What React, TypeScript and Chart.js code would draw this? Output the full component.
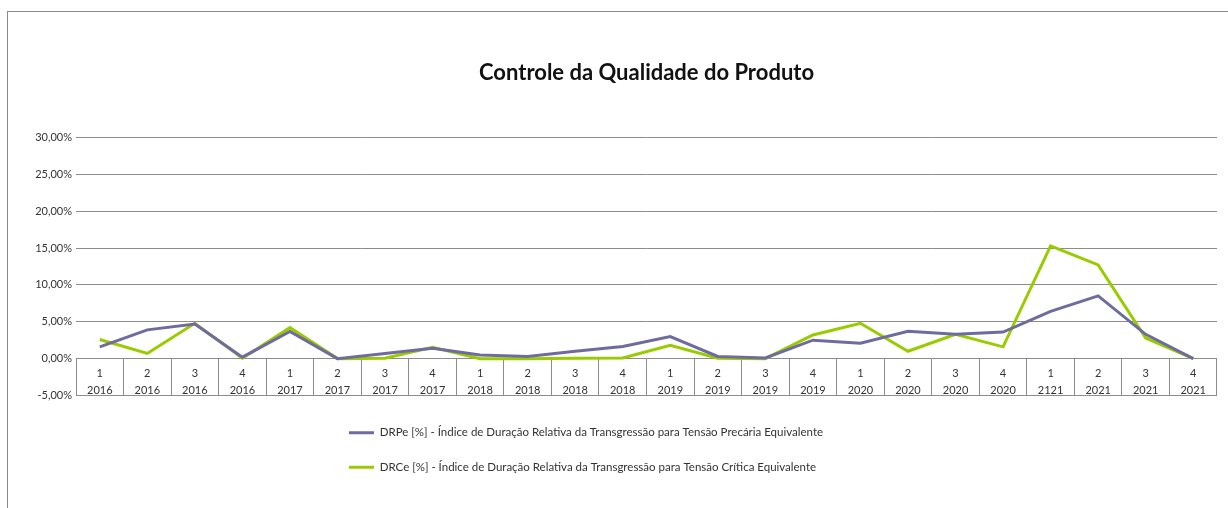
import React, { useEffect, useRef } from 'react';
import { Chart, registerables } from 'chart.js';

Chart.register(...registerables);

const quarters = ['1', '2', '3', '4', '1', '2', '3', '4', '1', '2', '3', '4', '1', '2', '3', '4', '1', '2', '3', '4', '1', '2', '3', '4'];
const years = ['2016', '2016', '2016', '2016', '2017', '2017', '2017', '2017', '2018', '2018', '2018', '2018', '2019', '2019', '2019', '2019', '2020', '2020', '2020', '2020', '2121', '2021', '2021', '2021'];

const drpeValues = [1.6, 3.9, 4.7, 0.2, 3.7, 0.0, 0.7, 1.4, 0.5, 0.3, 1.0, 1.65, 3.0, 0.3, 0.1, 2.5, 2.1, 3.7, 3.3, 3.6, 6.4, 8.5, 3.3, 0.0];
const drceValues = [2.6, 0.7, 4.8, 0.05, 4.2, 0.0, 0.05, 1.55, 0.0, 0.0, 0.05, 0.1, 1.8, 0.05, 0.0, 3.2, 4.8, 1.0, 3.3, 1.6, 15.3, 12.7, 2.8, 0.0];

const drpeLabel = 'DRPe [%] - Índice de Duração Relativa da Transgressão para Tensão Precária Equivalente';
const drceLabel = 'DRCe [%] - Índice de Duração Relativa da Transgressão para Tensão Crítica Equivalente';
const titleText = 'Controle da Qualidade do Produto';

const yMin = -5;
const yMax = 30;
const yStep = 5;

const FONT = 'Lato, "DejaVu Sans Condensed", Arial, sans-serif';

export default function App() {
  const ref = useRef<HTMLCanvasElement>(null);

  useEffect(() => {
    const legendPlacer = {
      id: 'legendPlacer',
      afterLayout(chart: any) {
        const lg = chart.legend;
        if (!lg) return;
        lg.left = 326;
        lg.right = 926;
        lg.width = 600;
        lg.top = 404;
        lg.height = 90;
        lg.bottom = 404 + 90;
      },
    };

    const chart = new Chart(ref.current as HTMLCanvasElement, {
      type: 'line',
      data: {
        labels: quarters.map((q, i) => [q, years[i]]),
        datasets: [
          {
            label: drpeLabel,
            data: drpeValues,
            borderColor: '#6f6b9f',
            backgroundColor: '#6f6b9f',
            borderWidth: 3,
            pointRadius: 0,
            tension: 0,
          },
          {
            label: drceLabel,
            data: drceValues,
            borderColor: '#99cc00',
            backgroundColor: '#99cc00',
            borderWidth: 3,
            pointRadius: 0,
            tension: 0,
          },
        ],
      },
      options: {
        animation: false,
        responsive: false,
        layout: { padding: { top: 0, bottom: 68, left: 0, right: 11 } },
        plugins: {
          title: {
            display: true,
            fullSize: false,
            text: titleText,
            color: '#111',
            font: { family: FONT, size: 22, weight: 'bold', lineHeight: 1.2 },
            padding: { top: 60, bottom: 51 },
          },
          legend: {
            display: true,
            position: 'bottom',
            align: 'start',
            labels: {
              color: '#333',
              font: { family: FONT, size: 11.5 },
              boxWidth: 25,
              boxHeight: 3,
              padding: 23,
              generateLabels: (c: any) =>
                Chart.defaults.plugins.legend.labels.generateLabels(c).map((it: any) => ({ ...it, lineWidth: 0 })),
            },
          },
          tooltip: { enabled: false },
        },
        scales: {
          x: {
            type: 'category',
            position: { y: 0 } as any,
            offset: true,
            border: { display: false },
            grid: {
              offset: true,
              drawOnChartArea: false,
              drawTicks: true,
              tickLength: 37,
              color: '#8c8c8c',
              tickColor: '#8c8c8c',
            },
            ticks: {
              autoSkip: false,
              maxRotation: 0,
              minRotation: 0,
              padding: -30,
              color: '#333',
              font: { family: FONT, size: 11, lineHeight: 1.5 },
            },
          },
          y: {
            min: yMin,
            max: yMax,
            border: { display: false },
            grid: { color: '#8c8c8c', drawTicks: false },
            afterFit: (scale: any) => {
              scale.width = 76;
            },
            ticks: {
              stepSize: yStep,
              padding: 4,
              color: '#333',
              font: { family: FONT, size: 11 },
              callback: (v: any) => Number(v).toFixed(2).replace('.', ',') + '%',
            },
          },
        },
      },
      plugins: [legendPlacer],
    } as any);

    return () => chart.destroy();
  }, []);

  return (
    <div style={{ position: 'fixed', left: 0, top: 0, width: 1228, height: 508, background: '#fff' }}>
      <div
        style={{
          position: 'absolute',
          left: 7,
          top: 11,
          width: 1221,
          height: 497,
          borderLeft: '1px solid #8a8a8a',
          borderTop: '1px solid #8a8a8a',
          boxSizing: 'border-box',
        }}
      />
      <canvas ref={ref} width={1228} height={508} style={{ position: 'absolute', left: 0, top: 0, display: 'block' }} />
    </div>
  );
}
